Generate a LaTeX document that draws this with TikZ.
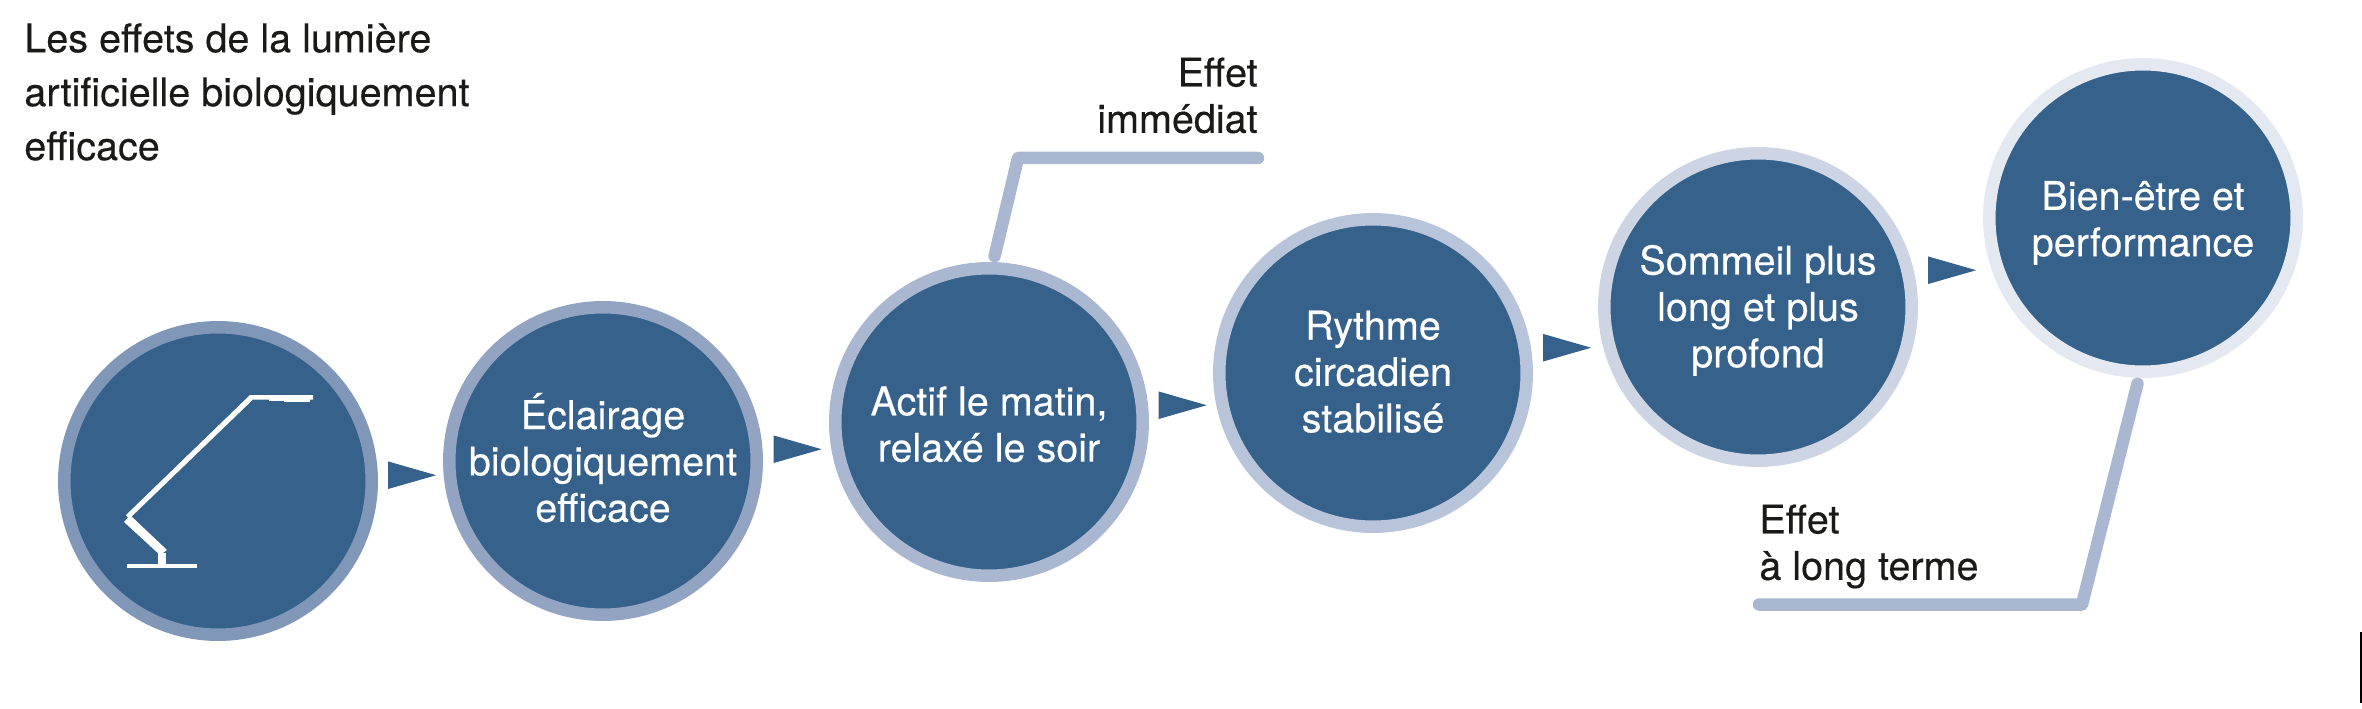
\documentclass[tikz,border=0pt]{standalone}
\usepackage{fontspec}
\setmainfont{TeX Gyre Heros}[RawFeature={embolden=0.35}]
\usepackage{xcolor}
\usetikzlibrary{shapes.geometric}
\definecolor{discblue}{HTML}{35618A}
\definecolor{ringa}{HTML}{8097B8}
\definecolor{ringb}{HTML}{92A4C2}
\definecolor{ringc}{HTML}{A9B7D1}
\definecolor{ringd}{HTML}{B8C4DA}
\definecolor{ringe}{HTML}{CDD5E4}
\definecolor{ringf}{HTML}{E4E8F0}
\definecolor{inkblack}{HTML}{1A1A18}
\newcommand{\tallline}[1]{\rule{0pt}{#1}}
\newcommand{\deepline}[1]{\rule[-#1]{0pt}{#1}}
\tikzset{
    label text/.style={text=inkblack,align=left,inner sep=0pt,font=\fontsize{22.5}{26.4}\selectfont},
    effect line/.style={draw=ringc,line width=0.25cm,line cap=round,line join=round},
    lamp/.style={fill=white,draw=none}
}
\begin{document}
\begin{tikzpicture}[x=0.02cm,y=-0.02cm]
\useasboundingbox (0,0) rectangle (2362,709);

\begin{scope}[every node/.style={circle,fill=discblue,line width=0.25cm,inner sep=0pt,minimum size=6.15cm,
              text=white,align=center,font=\fontsize{22.5}{26.4}\selectfont}]
    \node (c1)[draw=ringa] at (218,481) {};
    \node (c2)[draw=ringb] at (603,461) {Éclairage\\biologiquement\\efficace\deepline{4.2pt}};
    \node (c3)[draw=ringc] at (989,422) {\tallline{19.1pt}Actif le matin,\\relaxé le soir};
    \node (c4)[draw=ringd] at (1373,373) {Rythme\\circadien\\stabilisé\deepline{1.7pt}};
    \node (c5)[draw=ringe] at (1758,307) {\tallline{20.7pt}Sommeil plus\\long et plus\\profond};
    \node (c6)[draw=ringf] at (2143,218) {\tallline{22pt}Bien-être et\\performance};
\end{scope}

\begin{scope}[every node/.style={isosceles triangle,isosceles triangle apex angle=32,fill=discblue,
              inner sep=0pt,minimum height=0.96cm,shape border rotate=2,xshift=-6.8pt,yshift=-4.4pt}]
    \path (c1) edge[draw=none] node[yshift=2pt] (t1) {} (c2);
    \path (c2) edge[draw=none] node (t2) {} (c3);
    \path (c3) edge[draw=none] node (t3) {} (c4);
    \path (c4) edge[draw=none] node (t4) {} (c5);
    \path (c5) edge[draw=none] node (t5) {} (c6);
\end{scope}

\node (title)[label text,font=\fontsize{22.5}{30.7}\selectfont,anchor=west] at (24,92)
    {Les effets de la lumière\\artificielle biologiquement\\efficace};
\node (immediate)[label text,align=right,anchor=east] at (1258,95.5) {Effet\\immédiat};
\node (longterm)[label text,anchor=west] at (1759,546.5) {Effet\\à long terme};

\coordinate (immcorner) at (1018,158);
\coordinate (immend) at (1258,158);
\coordinate (longcorner) at (2082,604.5);
\coordinate (longend) at (1759,604.5);

\draw[effect line] ([shift={(0,-6)}]c3.88) -- (immcorner) -- (immend);
\draw[effect line] ([shift={(0,6)}]c6.268) -- (longcorner) -- (longend);

\fill[lamp] (127,564) rectangle (197,568.3);
\fill[lamp] (158,553) rectangle (166,564);
\fill[lamp] (124,522) -- (130,515) -- (167,550) -- (160,555) -- cycle;
\fill[lamp] (126,515) -- (250,395) -- (313,395) -- (313,399.5) -- (253,399.5) -- (129,519) -- cycle;
\fill[lamp] (284,399) rectangle (310,402);
\fill[lamp] (269,399) rectangle (284,400.5);

\draw[black,line width=0.04cm] (2361,632) -- (2361,703);
\end{tikzpicture}
\end{document}
